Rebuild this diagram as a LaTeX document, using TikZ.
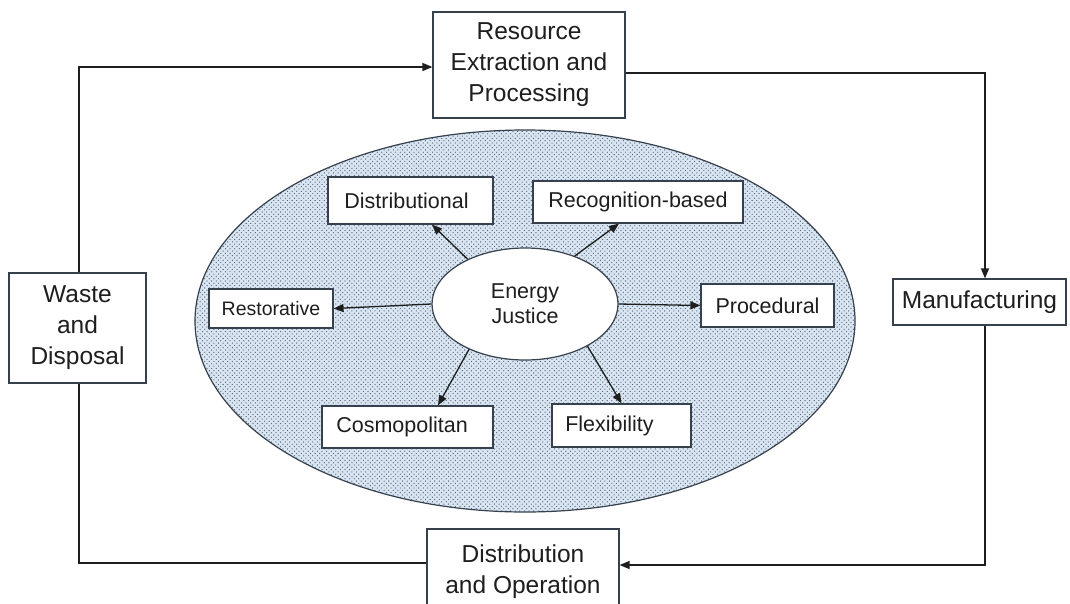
\documentclass[tikz,border=0pt]{standalone}
\usepackage{fontspec}
\setmainfont{Liberation Sans}
\usetikzlibrary{arrows.meta,shapes.geometric,patterns.meta}
\definecolor{edge}{RGB}{55,65,78}
\definecolor{ink}{RGB}{30,30,30}
\definecolor{bluefill}{RGB}{216,229,242}
\definecolor{dotc}{RGB}{85,95,108}
\tikzset{
  box/.style={draw=edge, line width=1.2pt, fill=white, align=center, inner sep=0pt, text=ink},
  big/.style={font=\fontsize{24.5}{31}\selectfont},
  small/.style={font=\fontsize{21.5}{26}\selectfont},
  arr/.style={draw=ink, line width=1.3pt, -{Triangle[length=10pt,width=8pt]}},
  ln/.style={draw=ink, line width=1.3pt},
}
\begin{document}
\begin{tikzpicture}[x=1pt,y=-1pt]
\useasboundingbox (0,0) rectangle (1070,603);
\clip (0,0) rectangle (1070,603);
% big ellipse
\fill[bluefill] (525,321) ellipse [x radius=330pt, y radius=191pt];
\fill[pattern={Dots[distance=4.6pt,radius=0.65pt]}, pattern color=dotc] (525,321) ellipse [x radius=330pt, y radius=191pt];
\fill[pattern={Dots[distance=4.6pt,radius=0.65pt,xshift=2.3pt,yshift=2.3pt]}, pattern color=dotc] (525,321) ellipse [x radius=330pt, y radius=191pt];
\draw[edge, line width=1.2pt] (525,321) ellipse [x radius=330pt, y radius=191pt];

% outer boxes
\node[box, big, minimum width=192pt, minimum height=106pt] (res) at (529,65) {Resource\\Extraction and\\Processing};
\node[box, big, minimum width=173pt, minimum height=46pt] (man) at (979.5,302) {Manufacturing};
\node[box, big, minimum width=192pt, minimum height=86pt] (dis) at (523,572) {Distribution\\and Operation};
\node[box, big, minimum width=137pt, minimum height=110pt] (was) at (77.5,328) {Waste\\and\\Disposal};

% inner
\node[draw=edge, line width=1.2pt, fill=white, ellipse, minimum width=186pt, minimum height=112pt, inner sep=0pt, align=center, text=ink, font=\fontsize{21.5}{25}\selectfont] (ej) at (525,304) {Energy\\Justice};
\node[box, small, minimum width=165pt, minimum height=47pt] (dst) at (410.5,200.5) {Distributional\hspace{8pt}};
\node[box, small, minimum width=210pt, minimum height=42pt] (rec) at (638,202) {Recognition-based};
\node[box, font=\fontsize{19.5}{24}\selectfont, minimum width=124pt, minimum height=39pt] (rst) at (271,308.5) {Restorative};
\node[box, small, minimum width=133pt, minimum height=43pt] (prc) at (767.5,305.5) {Procedural};
\node[box, small, minimum width=171pt, minimum height=42pt] (cos) at (407.5,427) {Cosmopolitan\hspace{11pt}};
\node[box, small, minimum width=139pt, minimum height=43pt] (flx) at (621.5,425.5) {Flexibility\hspace{24pt}};

% inner arrows
\draw[arr] (ej.142) -- ([xshift=21.5pt]dst.south);
\draw[arr] (ej.44) -- ([xshift=-19pt]rec.south);
\draw[arr] (ej.180) -- (rst.east);
\draw[arr] (ej.0) -- (prc.west);
\draw[arr] (ej.219) -- ([xshift=30.5pt]cos.north);
\draw[arr] (ej.326) -- (flx.north);

% cycle
\coordinate (c1) at (79,67);
\coordinate (c2) at (985,73);
\coordinate (c3) at (985,565);
\coordinate (c4) at (79,563);
\draw[arr] (was.north -| c1) -- (c1) -- (c1 -| res.west);
\draw[arr] (c2 -| res.east) -- (c2) -- (c2 |- man.north);
\draw[arr] (c2 |- man.south) -- (c3) -- (c3 -| dis.east);
\draw[ln] (c4 -| dis.west) -- (c4) -- (c4 |- was.south);
\end{tikzpicture}
\end{document}
